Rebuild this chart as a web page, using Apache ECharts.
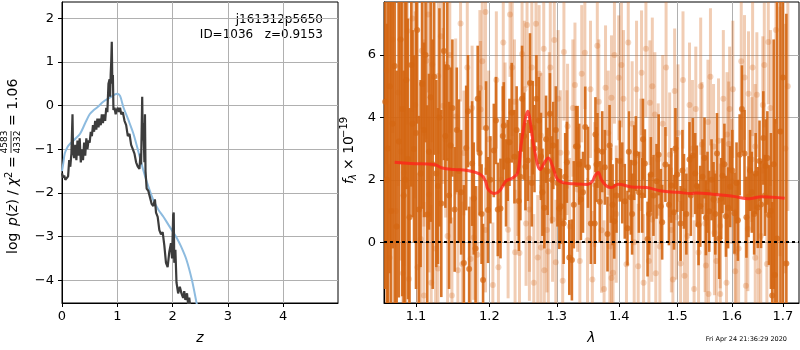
<!DOCTYPE html>
<html>
<head>
<meta charset="utf-8">
<script src="https://cdn.jsdelivr.net/npm/echarts@6/dist/echarts.min.js"></script>
<style>
  html, body { margin: 0; padding: 0; background: #fff; }
  #chart { width: 800px; height: 350px; }
</style>
</head>
<body>
<div id="chart"></div>
<script>
// ---- left panel: log p(z) ----
const pzZ = [0.00,0.02,0.04,0.06,0.09,0.11,0.13,0.15,0.17,0.19,
  0.20,0.22,0.24,0.26,0.28,0.30,0.32,0.34,0.36,0.38,0.40,0.42,0.44,0.46,0.48,0.50,0.52,0.54,0.56,0.58,
  0.60,0.62,0.64,0.66,0.68,0.70,0.72,0.74,0.76,0.78,0.80,
  0.82,0.84,0.86,0.87,0.88,0.89,0.90,0.91,0.92,0.93,
  0.95,0.97,0.99,1.01,1.03,1.05,1.07,
  1.10,1.13,1.16,1.19,1.22,1.25,1.28,1.31,1.34,1.37,1.40,
  1.42,1.43,1.45,1.46,1.47,1.49,1.50,1.51,1.53,
  1.56,1.59,1.62,1.65,1.68,1.70,1.73,1.76,1.79,1.82,1.85,1.88,1.91,1.94,1.97,
  1.99,2.01,2.02,2.03,2.05,2.07,
  2.10,2.13,2.16,2.19,2.21,2.23,2.26,2.28,2.30,2.32];
const pzLog = [-1.55,-1.65,-1.6,-1.7,-1.68,-1.62,-1.25,-1.4,-1.1,-0.2,
  -1.05,-1.2,-0.9,-1.25,-0.8,-1.15,-0.75,-1.3,-1.0,-1.25,-0.85,-1.15,-0.75,-1.0,-0.8,-0.85,-0.6,-0.7,-0.45,-0.6,
  -0.35,-0.55,-0.3,-0.5,-0.3,-0.45,-0.2,-0.4,-0.2,-0.35,-0.05,
  -0.15,0.5,0.6,0.2,0.7,1.0,1.46,0.5,0.7,-0.1,
  -0.05,-0.2,-0.1,-0.05,-0.15,-0.05,-0.2,
  -0.15,-0.35,-0.45,-0.7,-0.65,-0.9,-1.0,-1.1,-1.3,-1.4,-1.45,
  -1.1,-1.35,0.2,-0.8,-0.4,-1.3,-0.2,-1.5,-1.9,
  -1.95,-2.1,-2.25,-2.3,-2.15,-2.45,-2.55,-2.85,-2.95,-2.9,-3.2,-3.6,-3.7,-3.35,-3.15,
  -3.5,-2.5,-2.45,-3.6,-3.3,-4.05,
  -4.3,-4.15,-4.3,-4.4,-4.25,-4.45,-4.3,-4.55,-4.4,-4.6];
const fitZ = [0,0.02,0.05,0.1,0.15,0.25,0.33,0.42,0.5,0.57,0.65,0.74,0.85,0.95,1.0,1.05,1.11,1.2,1.29,1.38,
  1.47,1.56,1.65,1.74,1.83,1.92,2.0,2.07,2.15,2.25,2.35,2.43,2.47];
const fitLog = [-1.5,-1.35,-1.1,-0.95,-0.87,-0.75,-0.64,-0.4,-0.2,-0.11,-0.03,0.08,0.17,0.25,0.27,0.22,-0.04,-0.33,-0.64,-1.05,
  -1.48,-1.85,-2.16,-2.38,-2.54,-2.72,-2.88,-3.02,-3.22,-3.53,-4.0,-4.5,-4.75];
const zTicks = [0, 1, 2, 3, 4];
const logpTicks = [-4, -3, -2, -1, 0, 1, 2];

// ---- right panel: spectrum (wavelength in micron, flux in 1e-19) ----
const dkWave = [1.064,1.068,1.0725,1.0778,1.0822,1.086,1.0896,1.0939,1.0974,1.100,1.1039,1.1082,1.1148,1.1193,1.122,
  1.1268,1.131,1.1335,1.137,1.1416,1.144,1.1461,1.1516,1.1575,1.1643,1.1675,1.1716,1.1757,1.1805,1.1862,1.1911,1.1953,1.1981,
  1.2064,1.2121,1.216,1.2193,1.2207,1.2265,1.2323,1.2363,1.2426,1.2475,1.2525,1.256,1.2593,1.2634,1.2689,1.2758,1.2809,
  1.2859,1.2895,1.2946,1.3039,1.3064,1.3106,1.3157,1.3194,1.3235,1.3298,1.3324,1.3377,1.3446,1.3536,
  1.3599,1.361,1.3627,1.3643,1.3762,1.3806,1.386,1.3917,1.3954,1.4092,1.4137,1.4193,1.4251,1.4278,1.4387,1.4432,1.4478,
  1.4535,1.4633,1.4708,1.4731,1.4788,1.4893,1.494,1.4998,1.5057,1.5117,1.5217,1.5278,
  1.5381,1.5412,1.5453,1.5516,1.5577,1.5657,1.5721,1.5763,1.5825,1.5889,1.5969,1.6051,1.6116,1.6193,1.6243,1.632,1.6385,
  1.6501,1.6565,1.661,1.6656,1.6721,1.6786,1.6839,1.6884,1.6951,1.7002,1.707,
  1.0605,1.0625,1.0662,1.07,1.075,1.08,1.084,1.0875,1.0915,1.0955,1.1015,1.106,1.1105,1.1125,1.117,1.124,1.129,
  1.139,1.1485,1.1545,1.1605,1.17,1.178,1.1835,1.189,
  1.2015,1.2095,1.224,1.229,1.2395,1.245,1.2505,1.262,1.266,1.2725,1.278,1.2835,1.292,1.2985,1.301,1.313,1.3265,
  1.335,1.341,1.349,
  1.368,1.372,1.384,1.389,1.401,1.405,1.416,1.4215,1.433,1.44,1.4505,1.458,1.467,1.485,1.4965,1.509,1.516,1.524,1.532,
  1.535,1.549,1.5545,1.562,1.569,1.58,1.586,1.593,1.601,1.609,1.615,1.628,1.635,1.643,1.646,1.6535,1.664,1.669,
  1.676,1.6815];
const dkFlux = [3.0,1.0,5.65,3.23,4.27,2.0,2.67,5.68,2.99,3.5,1.05,5.07,0.89,4.65,2.5,
  2.2,4.0,1.24,6.13,5.61,1.5,3.1,1.05,2.28,-0.67,3.02,-0.86,2.52,-0.2,2.86,-1.21,3.66,1.03,
  2.94,1.05,1.08,3.4,3.73,2.62,4.15,2.74,1.32,4.6,2.42,2.62,5.1,3.67,4.6,2.75,1.1,
  2.27,4.12,3.1,1.08,1.15,0.6,2.56,-0.49,-0.57,3.07,3.07,1.37,3.69,0.6,
  0.6,3.45,2.49,2.94,2.4,0.26,1.82,0.67,1.5,1.31,0.45,1.44,2.55,2.84,1.5,2.52,0.1,
  2.17,1.95,1.15,0.64,2.49,1.82,0.96,2.17,0.6,1.63,2.65,2.78,
  0.56,1.15,2.1,0.78,0.99,1.37,2.84,0.12,2.13,0.83,1.78,0.93,0.7,4.27,2.84,1.46,1.6,
  1.11,1.21,3.34,2.44,0.87,-1.71,-1.05,0.12,3.55,5.28,-0.68,
  4.5,2.0,5.0,3.8,0.5,6.5,1.5,5.2,0.8,3.8,6.8,2.2,3.6,6.0,2.9,5.3,1.8,
  3.4,4.3,3.6,1.6,4.2,1.4,4.6,0.9,
  2.0,3.9,1.9,3.2,3.6,2.1,3.4,1.9,3.0,3.9,1.6,3.3,2.0,3.6,1.9,2.1,1.2,
  2.5,1.6,2.4,
  1.3,2.9,3.1,1.2,2.6,1.9,2.9,0.9,1.6,3.3,0.9,1.5,2.8,1.2,3.0,2.3,0.9,1.5,2.2,
  1.8,2.7,1.6,2.0,0.9,1.4,2.5,1.1,2.3,1.9,2.8,0.8,2.3,0.9,2.2,2.6,1.5,2.7,
  1.0,2.5];
const dkErr = [8,8,8,5,6,7,4.5,3.9,3,5,3,4,3.5,4,4,
  3,3.5,3,3.5,3,3,2.5,2,2.3,2.5,2,2,2,2,2,1.8,1.5,1.7,
  1.5,1.5,1.6,1.6,1.4,1.3,1.6,1.5,1.6,1.7,1.4,1.3,1.6,1.5,1.4,1.4,1.3,
  1.4,1.3,1.4,1.3,1.2,1.3,1.3,1.2,1.3,1.3,1.3,1.3,1.3,1.3,
  1.3,1.2,1.2,1.2,1.2,1.2,1.2,1.2,1.2,1.2,1.2,1.2,1.2,1.2,1.2,1.1,1.2,
  1.2,1.2,1.2,1.2,1.2,1.2,1.2,1.2,1.2,1.2,1.2,1.2,
  1.3,1.3,1.2,1.2,1.3,1.2,1.3,1.3,1.2,1.3,1.3,1.3,1.3,1.4,1.4,1.3,1.3,
  1.3,1.4,1.5,1.5,1.6,3,5,8,8,8,8,
  6,5,6,4,5,4,4,3.5,3.5,3,3,3,2.8,2.8,2.5,2.5,2.5,
  2.3,2.2,2.0,2.0,1.8,1.8,1.7,1.6,
  1.4,1.4,1.4,1.4,1.4,1.4,1.4,1.4,1.4,1.4,1.4,1.4,1.4,1.4,1.4,1.4,1.4,
  1.3,1.3,1.3,
  1.3,1.3,1.3,1.3,1.3,1.3,1.3,1.3,1.3,1.3,1.3,1.3,1.3,1.3,1.3,1.3,1.3,1.3,1.3,
  1.3,1.3,1.3,1.3,1.3,1.3,1.3,1.3,1.3,1.3,1.3,1.3,1.3,1.3,1.3,1.3,1.3,1.5,
  2.5,4];

const ltWave = [1.0801,1.0844,1.0887,1.0909,1.0952,1.1061,1.1075,1.1104,1.1104,1.1135,1.117,1.1214,1.1259,1.129,1.1294,
  1.1361,1.1394,1.1479,1.153,1.1597,1.162,1.1643,1.1735,1.1757,1.178,1.1866,1.1876,1.1945,1.1945,
  1.205,1.2169,1.2226,1.2298,1.2363,1.2372,1.2437,1.2475,1.2534,1.2549,1.2584,1.2584,1.2683,1.2709,1.2758,1.2758,
  1.2809,1.2849,1.2885,1.2935,1.2961,1.2985,1.3055,1.3091,1.3157,1.3167,1.3283,1.3324,1.344,1.3482,
  1.3599,1.3664,1.3708,1.3774,1.3818,1.3844,1.3871,1.3871,1.3897,1.3991,1.4036,1.412,1.4216,1.4318,1.4363,1.4375,
  1.4501,1.4518,1.4552,1.4604,1.4662,1.4691,1.4863,1.4893,1.4951,1.4981,1.5057,1.5127,1.5217,
  1.5331,1.5381,1.5443,1.5516,1.5554,1.5564,1.5657,1.5674,1.575,1.5782,1.5782,1.5909,1.594,1.5959,1.6001,
  1.6065,1.6077,1.6243,1.6308,1.632,1.6385,1.6451,1.6451,1.6483,1.6514,1.6629,1.6708,1.6943,
  1.062,1.066,1.07,1.074,1.077,1.083,1.099,1.102,1.116,1.12,1.133,1.142,1.145,1.156,1.169,1.183,1.19,1.199,
  1.21,1.213,1.22,1.227,1.233,1.241,1.251,1.262,1.265,1.273,1.28,1.287,1.29,1.302,1.311,1.32,1.325,1.336,1.339,
  1.353,1.356,1.364,1.375,1.392,1.395,1.407,1.415,1.425,1.429,1.441,1.445,1.456,1.462,1.474,1.48,1.492,
  1.501,1.51,1.518,1.527,1.53,1.542,1.55,1.56,1.571,1.584,1.59,1.602,1.613,1.618,1.627,1.64,1.656,1.66,1.668,
  1.675,1.686,1.705,1.71];
const ltFlux = [2.91,2.23,6.77,-1.18,7.17,0.1,6.14,3.5,-1.71,5.82,1.53,5.7,-0.2,-0.84,5.33,
  4.37,3.29,-1.71,4.03,7.01,-0.7,2.86,-0.54,4.3,0.15,4.94,4.25,7.38,0.39,
  -1.37,2.0,3.76,7.3,4.5,-0.32,-0.35,6.03,0.6,6.96,1.05,0.12,7.0,-0.49,3.42,-0.17,
  -0.9,0.39,4.09,0.73,6.48,-0.64,2.87,-1.24,2.87,3.72,5.04,1.69,6.07,0.06,
  1.85,4.5,0.38,4.95,3.5,-0.14,4.63,-1.15,-0.98,5.27,5.68,-0.71,3.8,-0.77,2.8,5.43,
  -0.6,4.47,0.73,4.09,2.65,-0.14,2.8,0.39,4.85,0.8,-0.68,-1.08,4.4,
  4.27,-0.33,3.13,-0.75,3.85,-1.66,3.07,0.3,3.25,0.52,-1.66,3.45,3.15,4.27,1.95,
  -0.93,-0.33,5.28,0.43,4.76,2.65,3.07,-0.5,4.73,-0.93,5.68,6.42,3.55,
  5.5,-0.5,6.5,1.0,4.8,-1.0,4.4,-0.8,7.3,-1.3,6.6,0.2,6.0,-0.9,5.6,-0.4,5.8,3.3,
  5.2,-0.8,6.4,0.4,5.6,2.4,4.9,5.6,-1.3,5.4,6.2,-0.3,5.6,4.6,6.1,0.5,4.3,-0.6,5.4,
  4.9,-1.2,6.3,-1.5,6.0,0.9,4.6,6.4,0.0,4.9,-1.3,6.2,5.0,-1.0,3.8,5.6,-1.2,
  3.5,5.2,0.2,3.0,-1.5,5.0,0.6,5.3,-0.6,4.6,-1.3,4.9,-0.2,5.8,-1.4,5.6,0.2,4.4,-0.7,
  4.3,6.8,3.0,5.0];
const ltErr = [3.5,3,3,3,3,2.5,2.5,3,3,2.5,2.5,2.5,2.5,2.5,2.5,
  2.5,2.5,2.5,2.5,2.5,2,2,2,2,2,2.5,2.2,2.5,2,
  2,2,2,2,2,2,2,2,2,2,2,2,2,2,2,2,
  2,2,2,2,2,2,2,2,2,2,2,2,1.8,2,
  2,2,2,2,2,2,2,2,2,2,2,2,2,2,1.8,2,
  2,2,2,2,1.8,2,2,2,2,2,2,2,2,
  2,2,2,2,2,2,2,2,2,2,2,2,2,2,2,
  2,2,2,2,2,2,2,2,2,2,2,2,4,
  3,3,3,3,3,3,3,3,2.5,2.5,2.5,2.5,2.5,2.5,2.5,2.2,2.2,2.2,
  2.2,2.2,2.2,2.2,2.2,2.2,2.2,2.2,2.2,2.2,2.2,2.2,2.2,2.2,2.2,2.2,2.2,2.2,2.2,
  2.2,2.2,2.2,2.2,2.2,2.2,2.2,2.2,2.2,2.2,2.2,2.2,2.2,2.2,2.2,2.2,2.2,
  2.2,2.2,2.2,2.2,2.2,2.2,2.2,2.2,2.2,2.2,2.2,2.2,2.2,2.2,2.2,2.2,2.2,2.2,2.2,
  2.5,3,4,4];

const modelWave = [1.0725,1.0931,1.1237,1.1348,1.1506,1.1688,1.1876,1.1945,1.1981,1.2074,1.2145,1.2241,1.2337,1.241,
  1.2458,1.252,1.256,1.2599,1.2659,1.275,1.2809,1.2869,1.2935,1.301,1.3117,1.3272,1.3482,1.3563,1.36,1.3654,1.3708,
  1.379,1.3871,1.3981,1.4205,1.4461,1.472,1.501,1.5248,1.5331,1.5688,1.6065,1.632,1.6578,1.7036];
const modelFlux = [2.56,2.52,2.49,2.38,2.33,2.3,2.17,1.96,1.7,1.56,1.64,1.96,2.06,2.22,
  3.07,3.93,4.2,3.82,2.97,2.33,2.54,2.7,2.44,2.01,1.9,1.87,1.85,1.96,2.12,2.23,2.0,
  1.8,1.75,1.86,1.77,1.75,1.64,1.6,1.56,1.58,1.53,1.46,1.39,1.46,1.41];
const waveTicks = [1.1, 1.2, 1.3, 1.4, 1.5, 1.6, 1.7];
const fluxTicks = [0, 2, 4, 6];

const FONT = 'DejaVu Sans';
const fluxMin = -1.95, fluxMax = 7.7;
const minus = v => String(v).replace('-', '\u2212');

// the wavelength axis is logarithmic, so it runs on ln(lambda)
const specRows = (w, f, e) => w.map((x, i) => [Math.log(x), f[i], e[i]]);
const dkRows = specRows(dkWave, dkFlux, dkErr);
const ltRows = specRows(ltWave, ltFlux, ltErr);

function errBars(color, width) {
  return function (params, api) {
    const x = api.value(0), y = api.value(1), e = api.value(2);
    const lo = api.coord([x, Math.max(y - e, fluxMin)]);
    const hi = api.coord([x, Math.min(y + e, fluxMax)]);
    return {
      type: 'line',
      shape: { x1: lo[0], y1: lo[1], x2: hi[0], y2: hi[1] },
      style: { stroke: color, lineWidth: width }
    };
  };
}

const DARK = 'rgba(212,102,18,0.9)';
const LIGHT = 'rgba(214,104,26,0.33)';

const axisCommon = {
  axisLine: { show: true, onZero: false, lineStyle: { color: '#000', width: 1 } },
  axisTick: { show: true, length: 4, lineStyle: { color: '#000' } },
  axisLabel: { color: '#000', fontSize: 13, fontFamily: FONT },
  splitLine: { show: true, lineStyle: { color: '#b0b0b0', width: 1 } }
};

const chart = echarts.init(document.getElementById('chart'));
chart.setOption({
  animation: false,
  backgroundColor: '#fff',
  grid: [
    { left: 62, top: 2, width: 276, height: 302, show: true, borderColor: '#000', borderWidth: 1 },
    { left: 384, top: 2, width: 415, height: 302, show: true, borderColor: '#000', borderWidth: 1 }
  ],
  xAxis: [
    {
      gridIndex: 0, type: 'value', min: 0, max: 4.99,
      ...axisCommon,
      axisTick: { ...axisCommon.axisTick, customValues: zTicks },
      axisLabel: { ...axisCommon.axisLabel, customValues: zTicks, margin: 7 },
      name: 'z', nameLocation: 'middle', nameGap: 28,
      nameTextStyle: { color: '#000', fontSize: 14, fontFamily: FONT, fontStyle: 'italic' }
    },
    {
      gridIndex: 1, type: 'value', min: Math.log(1.059), max: Math.log(1.7328),
      ...axisCommon,
      axisTick: { ...axisCommon.axisTick, customValues: waveTicks.map(Math.log) },
      axisLabel: { ...axisCommon.axisLabel, customValues: waveTicks.map(Math.log), margin: 7,
        formatter: v => Math.exp(v).toFixed(1) },
      name: 'λ', nameLocation: 'middle', nameGap: 28,
      nameTextStyle: { color: '#000', fontSize: 14, fontFamily: FONT, fontStyle: 'italic' }
    }
  ],
  yAxis: [
    {
      gridIndex: 0, type: 'value', min: -4.52, max: 2.37,
      ...axisCommon,
      axisTick: { ...axisCommon.axisTick, customValues: logpTicks },
      axisLabel: { ...axisCommon.axisLabel, customValues: logpTicks, margin: 8, formatter: minus }
    },
    {
      gridIndex: 1, type: 'value', min: fluxMin, max: fluxMax,
      ...axisCommon,
      axisTick: { ...axisCommon.axisTick, customValues: fluxTicks },
      axisLabel: { ...axisCommon.axisLabel, customValues: fluxTicks, margin: 8, formatter: minus }
    }
  ],
  series: [
    {
      type: 'line', xAxisIndex: 0, yAxisIndex: 0, showSymbol: false, smooth: 0.3,
      data: fitZ.map((z, i) => [z, fitLog[i]]),
      lineStyle: { color: '#8dbbdf', width: 2 }, z: 3
    },
    {
      type: 'line', xAxisIndex: 0, yAxisIndex: 0, showSymbol: false,
      data: pzZ.map((z, i) => [z, pzLog[i]]),
      lineStyle: { color: '#3c3c3c', width: 2.2 }, z: 4
    },
    {
      type: 'custom', xAxisIndex: 1, yAxisIndex: 1, data: ltRows,
      renderItem: errBars(LIGHT, 3), encode: { x: 0, y: 1 }, z: 2
    },
    {
      type: 'scatter', xAxisIndex: 1, yAxisIndex: 1, data: ltRows,
      symbolSize: 6, itemStyle: { color: LIGHT }, z: 2
    },
    {
      type: 'custom', xAxisIndex: 1, yAxisIndex: 1, data: dkRows,
      renderItem: errBars(DARK, 2.6), encode: { x: 0, y: 1 }, z: 3
    },
    {
      type: 'scatter', xAxisIndex: 1, yAxisIndex: 1, data: dkRows,
      symbolSize: 6, itemStyle: { color: DARK }, z: 3
    },
    {
      type: 'line', xAxisIndex: 1, yAxisIndex: 1, showSymbol: false, smooth: 0.4,
      data: modelWave.map((w, i) => [Math.log(w), modelFlux[i]]),
      lineStyle: { color: 'rgba(255,35,25,0.78)', width: 3 }, z: 5,
      markLine: {
        silent: true, symbol: 'none', label: { show: false },
        lineStyle: { color: '#000', type: [3, 3], width: 2 },
        data: [{ yAxis: 0 }]
      }
    }
  ],
  graphic: [
    {
      type: 'text', x: 323, y: 20,
      style: { text: 'j161312p5650', fontSize: 12, fontFamily: FONT, fill: '#000', align: 'right', verticalAlign: 'middle' }
    },
    {
      type: 'text', x: 323, y: 35,
      style: { text: 'ID=1036   z=0.9153', fontSize: 12, fontFamily: FONT, fill: '#000', align: 'right', verticalAlign: 'middle' }
    },
    {
      // y label of left panel, read bottom to top
      type: 'group', x: 13, y: 254, rotation: Math.PI / 2,
      children: [
        { type: 'text', x: 0, y: 0, style: { text: 'log', fontSize: 14, fontFamily: FONT, fill: '#000', verticalAlign: 'middle' } },
        { type: 'text', x: 28, y: 0, style: { text: 'p', fontSize: 14, fontFamily: FONT, fontStyle: 'italic', fill: '#000', verticalAlign: 'middle' } },
        { type: 'text', x: 37, y: 0, style: { text: '(', fontSize: 14, fontFamily: FONT, fill: '#000', verticalAlign: 'middle' } },
        { type: 'text', x: 42, y: 0, style: { text: 'z', fontSize: 14, fontFamily: FONT, fontStyle: 'italic', fill: '#000', verticalAlign: 'middle' } },
        { type: 'text', x: 49.5, y: 0, style: { text: ')', fontSize: 14, fontFamily: FONT, fill: '#000', verticalAlign: 'middle' } },
        { type: 'text', x: 59, y: 0, style: { text: '/', fontSize: 14, fontFamily: FONT, fill: '#000', verticalAlign: 'middle' } },
        { type: 'text', x: 68, y: 0, style: { text: 'χ', fontSize: 14, fontFamily: FONT, fontStyle: 'italic', fill: '#000', verticalAlign: 'middle' } },
        { type: 'text', x: 76, y: -4, style: { text: '2', fontSize: 10, fontFamily: FONT, fill: '#000', verticalAlign: 'middle' } },
        { type: 'text', x: 86, y: 0, style: { text: '=', fontSize: 14, fontFamily: FONT, fill: '#000', verticalAlign: 'middle' } },
        { type: 'text', x: 112, y: -4, style: { text: '4583', fontSize: 9, fontFamily: FONT, fill: '#000', align: 'center', verticalAlign: 'bottom' } },
        { type: 'line', shape: { x1: 101, y1: -2, x2: 123, y2: -2 }, style: { stroke: '#000', lineWidth: 0.8 } },
        { type: 'text', x: 112, y: 0, style: { text: '4332', fontSize: 9, fontFamily: FONT, fill: '#000', align: 'center', verticalAlign: 'top' } },
        { type: 'text', x: 128, y: 0, style: { text: '= 1.06', fontSize: 14, fontFamily: FONT, fill: '#000', verticalAlign: 'middle' } }
      ]
    },
    {
      // y label of right panel
      type: 'group', x: 349, y: 184, rotation: Math.PI / 2,
      children: [
        { type: 'text', x: 0, y: 0, style: { text: 'f', fontSize: 14, fontFamily: FONT, fontStyle: 'italic', fill: '#000', verticalAlign: 'middle' } },
        { type: 'text', x: 4, y: 4, style: { text: 'λ', fontSize: 10, fontFamily: FONT, fontStyle: 'italic', fill: '#000', verticalAlign: 'middle' } },
        { type: 'text', x: 14, y: 0, style: { text: '× 10', fontSize: 14, fontFamily: FONT, fill: '#000', verticalAlign: 'middle' } },
        { type: 'text', x: 46, y: -5, style: { text: '\u221219', fontSize: 10, fontFamily: FONT, fill: '#000', verticalAlign: 'middle' } }
      ]
    },
    {
      type: 'text', x: 787, y: 339,
      style: { text: 'Fri Apr 24 21:36:29 2020', fontSize: 6.5, fontFamily: FONT, fill: '#000', align: 'right', verticalAlign: 'middle' }
    }
  ]
});
</script>
</body>
</html>
